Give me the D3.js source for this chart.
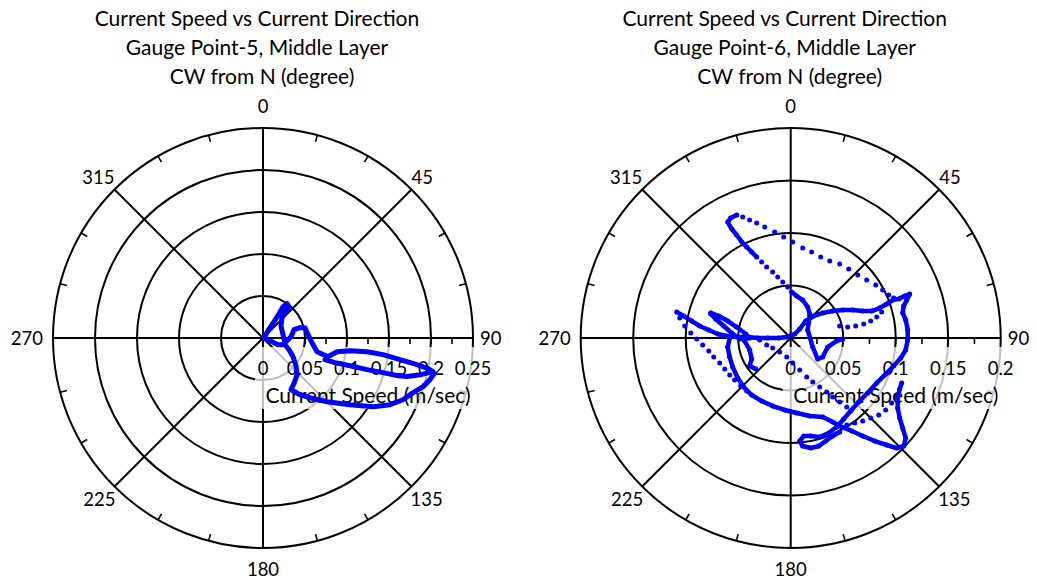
<!DOCTYPE html>
<html>
<head>
<meta charset="utf-8">
<script src="https://cdn.jsdelivr.net/npm/d3@7"></script>
<style>
  html, body { margin: 0; padding: 0; background: #fff; }
  svg { display: block; }
</style>
</head>
<body>
<svg id="chart" width="1037" height="585"></svg>
<script>
// ---------------------------------------------------------------
// Gauge Point-5, middle layer: current direction (deg, CW from N)
// and current speed (m/s), in time order.
// ---------------------------------------------------------------
const gp5Direction = [109.3,108.9,107.7,106.9,106.1,105.6,105.0,103.2,101.2,100.5,99.8,99.0,97.9,97.5,98.3,100.5,106.1,104.2,95.5,85.8,76.2,74.4,75.0,87.3,102.1,80.6,55.7,43.1,39.9,39.7,35.0,32.6,33.4,34.0,34.4,90,111.1,114.1,106.9,114.2,121.9,130.0,137.2,145.9,151.6,146.9,141.8,134.9,127.5,122.0,117.7,113.8,110.0,106.9,104.0,101.8];
const gp5Speed = [0.0782,0.0906,0.1087,0.1294,0.1487,0.1669,0.1775,0.1919,0.2063,0.1998,0.1861,0.1651,0.1443,0.1249,0.1047,0.0896,0.0805,0.0663,0.0586,0.0537,0.0515,0.0457,0.0382,0.0334,0.0268,0.0241,0.0259,0.0331,0.0408,0.0484,0.0498,0.0442,0.0346,0.0234,0.0105,0.001,0.0089,0.0196,0.0274,0.0340,0.0421,0.0513,0.0596,0.0657,0.0700,0.0806,0.0905,0.1075,0.1305,0.1544,0.1708,0.1821,0.1901,0.1991,0.2049,0.2080];

// Gauge Point-6, middle layer: closely spaced records drawn as a
// continuous track (null separates the stretches) ...
const gp6TrackDirection = [
  282.8,281.6,279.7,277.5,275.6,273.1,271.8,271.1,271.3,270,270,270,284,
  45,45,41.4,46.3,52.0,57.3,61.7,65.7,69.4,71.6,71.4,70.5,69.6,70.1,69.8,69.7,71.9,74.2,77.4,81.1,86.1,91.0,96.0,100.3,105.2,110.8,117.6,125.5,133.3,140.6,146.8,152.7,158.2,
  163.7,168.5,172.4,175.0,173.7,169.7,165.5,161.2,156.8,152.5,
  null,
  336.3,333.4,331.5,331.6,332.3,333.0,334.2,335.6,337.2,
  null,
  1.2,8.1,17.5,28.7,38.4,48.4,64.8,112.2,127.9,120.7,103.7,93.7,91.1,
  null,
  287.4,287.0,285.1,281.5,275.1,270,268.9,274.8,280.2,284.2,286.7,
  null,
  270,261.9,252.7,243.4,233.0,223.8,214.4,204.7,194.8,184.8,175.4,166.3,
  157.9,153.4,150.2,146.7,143.7,140.8,138.1,136.1,133.7,131.0,128.8,126.3,123.2,119.3,115.1,112.1,
  null,
  266.3,253.7,241.7,235.7,228.5
];
const gp6TrackSpeed = [
  0.1113,0.1040,0.0956,0.0874,0.0785,0.0696,0.0610,0.0514,0.0410,0.0314,0.0219,0.0114,0.0039,
  0.0054,0.0121,0.0216,0.0303,0.0387,0.0475,0.0563,0.0648,0.0732,0.0813,0.0894,0.0970,0.1037,0.1094,0.1157,0.1208,0.1163,0.1118,0.1093,0.1109,0.1117,0.1114,0.1101,0.1065,0.1016,0.0968,0.0924,0.0901,0.0889,0.0900,0.0922,0.0954,0.0974,
  0.0983,0.0952,0.0942,0.0985,0.1035,0.1065,0.1063,0.1036,0.1015,0.1010,
  null,
  0.1279,0.1278,0.1257,0.1180,0.1108,0.1027,0.0963,0.0899,0.0837,
  null,
  0.0438,0.0404,0.0379,0.0337,0.0291,0.0229,0.0179,0.0226,0.0326,0.0354,0.0363,0.0439,0.0495,
  null,
  0.0798,0.0717,0.0621,0.0525,0.0430,0.0390,0.0486,0.0564,0.0648,0.0737,0.0795,
  null,
  0.0581,0.0606,0.0609,0.0618,0.0632,0.0647,0.0658,0.0661,0.0670,0.0688,0.0717,0.0765,
  0.0812,0.0894,0.0977,0.1059,0.1158,0.1266,0.1369,0.1455,0.1489,0.1451,0.1368,0.1288,0.1218,0.1168,0.1146,0.1141,
  null,
  0.0439,0.0407,0.0422,0.0473,0.0445
];

// ... and widely spaced records drawn as single markers.
const gp6SampleDirection = [
  338.4,340.8,343.5,346.8,351.4,356.0,1.2,7.6,13.7,20.3,26.9,33.5,40.1,46.8,52.7,58.1,62.4,66.3,68.8,
  339.1,341.3,344.7,348.0,351.9,356.6,
  280.2,276.5,272.9,269.4,265.5,261.0,256.1,250.6,244.8,238.8,233.1,226.2,219.7,
  266.3,253.7,240.9,218.2,191.9,175.4,164.3,157.7,153.4,149.4,146.3,144.6,142.6,140.9,
  118.7,122.8,127.2,131.2,135.0,139.1,143.0,147.2,
  76.2,79.1,79.5,79.1,78.0,76.3,74.1
];
const gp6SampleSpeed = [
  0.1240,0.1190,0.1142,0.1086,0.1021,0.0964,0.0914,0.0865,0.0843,0.0823,0.0822,0.0845,0.0858,0.0876,0.0910,0.0954,0.0988,0.1019,0.1052,
  0.0775,0.0714,0.0652,0.0594,0.0539,0.0487,
  0.1074,0.1016,0.0953,0.0895,0.0841,0.0790,0.0755,0.0717,0.0694,0.0679,0.0667,0.0660,0.0656,
  0.0296,0.0238,0.0196,0.0170,0.0185,0.0239,0.0317,0.0402,0.0469,0.0542,0.0618,0.0690,0.0768,0.0846,
  0.1151,0.1144,0.1135,0.1114,0.1078,0.1047,0.1013,0.0985,
  0.0480,0.0553,0.0630,0.0708,0.0779,0.0843,0.0901
];

// Axis ticks and labels
const angleTicks = [0, 45, 90, 135, 180, 225, 270, 315];
const gp5SpeedTicks = [0, 0.05, 0.1, 0.15, 0.2, 0.25];
const gp6SpeedTicks = [0, 0.05, 0.1, 0.15, 0.2];
const gp5Title = ["Current Speed vs Current Direction", "Gauge Point-5, Middle Layer", "CW from N (degree)"];
const gp6Title = ["Current Speed vs Current Direction", "Gauge Point-6, Middle Layer", "CW from N (degree)"];
const speedAxisTitle = "Current Speed (m/sec)";

// ---------------------------------------------------------------
const FONT = "Lato, 'Open Sans', sans-serif";
const BLUE = "#0000ff";
const svg = d3.select("#chart");

const zip = (dirs, speeds) => dirs.map((d, i) => ({ dir: d, speed: speeds[i] }));

function polarPanel(cfg) {
  const R = cfg.R;
  const maxSpeed = cfg.speedTicks[cfg.speedTicks.length - 1];
  const rScale = d3.scaleLinear().domain([0, maxSpeed]).range([0, R]);
  const aScale = d3.scaleLinear().domain([0, 360]).range([0, 2 * Math.PI]);
  const g = svg.append("g").attr("transform", `translate(${cfg.cx},${cfg.cy})`);

  // title, three centred lines
  svg.append("g").selectAll("text").data(cfg.title).join("text")
    .attr("x", (d, i) => cfg.cx + (i < 2 ? -6 : -1))
    .attr("y", (d, i) => 26 + i * 29)
    .attr("text-anchor", "middle")
    .attr("font-family", FONT).attr("font-size", 21)
    .attr("fill", "#000")
    .text(d => d);

  // speed rings
  g.append("g").selectAll("circle").data(cfg.speedTicks.filter(t => t > 0)).join("circle")
    .attr("r", d => rScale(d))
    .attr("fill", "none").attr("stroke", "#000").attr("stroke-width", 2);

  // direction spokes
  g.append("g").selectAll("line").data(angleTicks).join("line")
    .attr("x1", 0).attr("y1", 0)
    .attr("x2", d => d3.pointRadial(aScale(d), R)[0])
    .attr("y2", d => d3.pointRadial(aScale(d), R)[1])
    .attr("stroke", "#000").attr("stroke-width", 2);

  // minor direction ticks every 15 degrees on the rim
  const minorAngles = d3.range(0, 360, 15).filter(d => d % 45 !== 0);
  g.append("g").selectAll("line").data(minorAngles).join("line")
    .attr("x1", d => d3.pointRadial(aScale(d), R - 7)[0])
    .attr("y1", d => d3.pointRadial(aScale(d), R - 7)[1])
    .attr("x2", d => d3.pointRadial(aScale(d), R)[0])
    .attr("y2", d => d3.pointRadial(aScale(d), R)[1])
    .attr("stroke", "#000").attr("stroke-width", 1.6);

  // minor speed ticks along the 90 degree spoke
  const minorSpeeds = d3.range(1, Math.round(maxSpeed / 0.025)).map(i => i * 0.025);
  g.append("g").selectAll("line").data(minorSpeeds).join("line")
    .attr("x1", d => rScale(d)).attr("x2", d => rScale(d))
    .attr("y1", 0).attr("y2", 6)
    .attr("stroke", "#000").attr("stroke-width", 1.6);

  // direction labels outside the rim
  const angleLabel = g.append("g").attr("font-family", FONT).attr("font-size", 18.5).attr("fill", "#000");
  angleTicks.forEach(deg => {
    const [px, py] = d3.pointRadial(aScale(deg), R);
    let x = px, y = py, anchor = "middle";
    if (deg === 0)        { y = -R - 15; }
    else if (deg === 180) { y = R + 27.5; }
    else if (deg === 90)  { x = R + 7;  y = 6.7; anchor = "start"; }
    else if (deg === 270) { x = -R - 10; y = 6.7; anchor = "end"; }
    else if (deg === 45)  { y = py - 6;    anchor = "start"; }
    else if (deg === 135) { x = px - 1; y = py + 19.5; anchor = "start"; }
    else if (deg === 225) { x = px + 1; y = py + 19.5; anchor = "end"; }
    else if (deg === 315) { y = py - 6;    anchor = "end"; }
    angleLabel.append("text").attr("x", x).attr("y", y).attr("text-anchor", anchor).text(deg);
  });

  // speed axis labels on a translucent backing
  g.append("rect")
    .attr("x", -8).attr("y", 9).attr("width", R + 30).attr("height", 62)
    .attr("fill", "#fff").attr("fill-opacity", 0.75);
  g.append("g").selectAll("text").data(cfg.speedTicks).join("text")
    .attr("x", d => rScale(d)).attr("y", 37)
    .attr("text-anchor", "middle")
    .attr("font-family", FONT).attr("font-size", 18.5).attr("fill", "#000")
    .text(d => String(d));
  g.append("text")
    .attr("x", R / 2).attr("y", 65)
    .attr("text-anchor", "middle")
    .attr("font-family", FONT).attr("font-size", 21).attr("fill", "#000")
    .text(speedAxisTitle);

  return { g, rScale, aScale };
}

// ---------------- Gauge Point-5 ----------------
const p5 = polarPanel({ cx: 263, cy: 338, R: 210, speedTicks: gp5SpeedTicks, title: gp5Title });
const line5 = d3.lineRadial()
  .angle(d => p5.aScale(d.dir))
  .radius(d => p5.rScale(d.speed));
p5.g.append("path")
  .datum(zip(gp5Direction, gp5Speed))
  .attr("d", line5)
  .attr("fill", "none").attr("stroke", BLUE).attr("stroke-width", 5)
  .attr("stroke-linejoin", "round").attr("stroke-linecap", "round");

// ---------------- Gauge Point-6 ----------------
const p6 = polarPanel({ cx: 790.7, cy: 338, R: 210, speedTicks: gp6SpeedTicks, title: gp6Title });
const track6 = zip(gp6TrackDirection, gp6TrackSpeed);
const line6 = d3.lineRadial()
  .defined(d => d.speed !== null)
  .angle(d => p6.aScale(d.dir))
  .radius(d => p6.rScale(d.speed));
p6.g.append("path")
  .datum(track6)
  .attr("d", line6)
  .attr("fill", "none").attr("stroke", BLUE).attr("stroke-width", 4.5)
  .attr("stroke-linejoin", "round").attr("stroke-linecap", "round");
p6.g.append("g").selectAll("circle")
  .data(track6.filter(d => d.speed !== null).concat(zip(gp6SampleDirection, gp6SampleSpeed)))
  .join("circle")
  .attr("cx", d => d3.pointRadial(p6.aScale(d.dir), p6.rScale(d.speed))[0])
  .attr("cy", d => d3.pointRadial(p6.aScale(d.dir), p6.rScale(d.speed))[1])
  .attr("r", 2.5)
  .attr("fill", BLUE);
</script>
</body>
</html>
